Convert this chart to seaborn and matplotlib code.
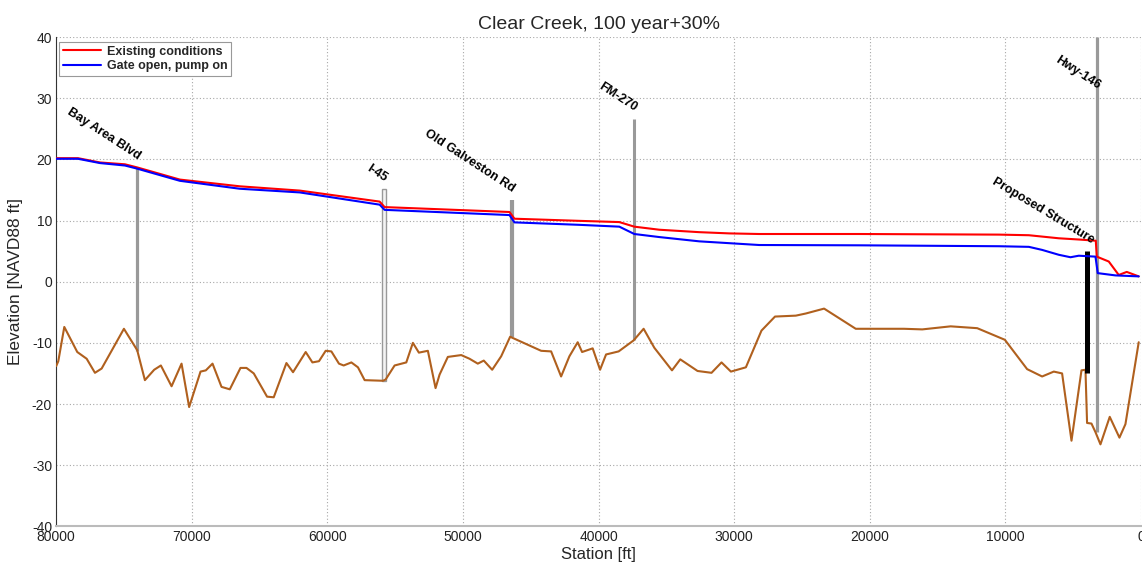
import numpy as np
import pandas as pd
import matplotlib
matplotlib.use("Agg")
import matplotlib.pyplot as plt
from matplotlib.patches import Rectangle
import seaborn as sns

# ---------------- data ----------------
existing_station = [80000, 78394, 76774, 74932, 74048, 70881, 66461, 62042, 56149, 55780,
                    46573, 46205, 41417, 38471, 37366, 35525, 32578, 30369, 28159, 20793,
                    10480, 8270, 6061, 4588, 3335, 3261, 2377, 1641, 1052, 168]
existing_elev = [20.2, 20.2, 19.5, 19.2, 18.7, 16.7, 15.6, 14.9, 13.1, 12.2,
                 11.4, 10.3, 9.95, 9.75, 9.0, 8.5, 8.1, 7.9, 7.8, 7.8,
                 7.7, 7.6, 7.1, 6.9, 6.7, 4.1, 3.3, 1.1, 1.6, 0.87]

gate_station = [80000, 78394, 76774, 74932, 74048, 70881, 66461, 62042, 56149, 55780,
                46573, 46205, 41417, 38471, 37366, 35525, 32578, 30369, 28159, 20793,
                10480, 8270, 7292, 6061, 5200, 4588, 3358, 3188, 1884, 168]
gate_elev = [20.1, 20.1, 19.4, 19.0, 18.5, 16.5, 15.2, 14.6, 12.6, 11.75,
             10.9, 9.7, 9.3, 9.0, 7.8, 7.3, 6.6, 6.3, 6.0, 5.95,
             5.8, 5.7, 5.2, 4.4, 4.0, 4.25, 4.1, 1.4, 1.03, 0.87]

bed_station = [80000, 79845, 79403, 78446, 77753, 77142, 76648, 75006, 74026, 73459,
               72774, 72281, 71492, 70756, 70196, 69356, 68966, 68472, 67809, 67198,
               66410, 65968, 65430, 64450, 63957, 63021, 62535, 61600, 61106, 60620,
               60127, 59707, 59147, 58800, 58233, 57747, 57253, 55906, 55707, 55044,
               54182, 53696, 53254, 52591, 52024, 51729, 51118, 50131, 49520, 48909,
               48467, 47848, 47185, 46522, 46330, 44238, 43501, 42765, 42154, 41542,
               41218, 40437, 39892, 39450, 38522, 37417, 36680, 35892, 34588, 33977,
               32703, 31672, 30935, 30243, 29138, 27989, 26990, 25454, 24718, 23371,
               21036, 17478, 16130, 14038, 12079, 10040, 8397, 7292, 6430, 5819,
               5126, 4390, 4095, 3977, 3653, 3358, 2990, 2305, 1590, 1148, 168]
bed_elev = [-13.8, -13.0, -7.4, -11.5, -12.6, -14.9, -14.2, -7.7, -11.2, -16.1,
            -14.4, -13.7, -17.1, -13.4, -20.5, -14.7, -14.5, -13.4, -17.2, -17.6,
            -14.1, -14.1, -15.0, -18.8, -18.9, -13.3, -14.8, -11.5, -13.2, -13.0,
            -11.3, -11.4, -13.4, -13.7, -13.2, -14.0, -16.1, -16.2, -16.0, -13.7,
            -13.2, -10.0, -11.6, -11.3, -17.4, -15.2, -12.3, -12.0, -12.6, -13.4,
            -12.9, -14.4, -12.2, -9.0, -9.2, -11.3, -11.4, -15.5, -12.2, -9.9,
            -11.5, -10.9, -14.4, -11.9, -11.4, -9.6, -7.7, -10.8, -14.5, -12.7,
            -14.6, -14.9, -13.2, -14.7, -14.0, -8.0, -5.7, -5.55, -5.2, -4.4,
            -7.7, -7.7, -7.8, -7.3, -7.6, -9.5, -14.3, -15.5, -14.7, -15.0,
            -26.0, -14.5, -14.4, -23.1, -23.2, -24.6, -26.6, -22.1, -25.5, -23.3, -9.9]

bridge_names = ["Bay Area Blvd", "I-45", "Old Galveston Rd", "FM-270", "Hwy-146"]
bridge_station = [74050, 55820, 46420, 37420, 3250]
bridge_bottom = [-11.3, -16.2, -9.0, -9.6, -24.6]
bridge_top = [18.7, 15.1, 13.4, 26.6, 40.0]
bridge_label_y = [19.6, 15.9, 14.2, 27.4, 31.0]

structure_name = "Proposed Structure"
structure_station = 3950
structure_bottom = -14.9
structure_top = 5.0
structure_label_y = 5.9

series_names = ["Existing conditions", "Gate open, pump on"]
x_ticks = [80000, 70000, 60000, 50000, 40000, 30000, 20000, 10000, 0]
y_ticks = [-40, -30, -20, -10, 0, 10, 20, 30, 40]

# ---------------- style ----------------
sns.set_style("white")
plt.rcParams["font.family"] = ["Liberation Sans", "DejaVu Sans"]
plt.rcParams["axes.unicode_minus"] = False

fig = plt.figure(figsize=(11.42, 5.65), dpi=100)
ax = fig.add_axes([56.2 / 1142, 1 - 526.3 / 565, (1141.0 - 56.2) / 1142, (526.3 - 37.1) / 565])

# bridges (gray)
bridge_widths = [2.3, None, 3.0, 2.2, 2.3]
for name, s, b, t, w in zip(bridge_names, bridge_station, bridge_bottom, bridge_top, bridge_widths):
    if name == "I-45":
        ax.add_patch(Rectangle((s + 150, b), -300, t - b, facecolor="#f4f4f4",
                               edgecolor="#999999", linewidth=1.0, zorder=2))
    else:
        ax.plot([s, s], [b, t], color="#999999", linewidth=w, solid_capstyle="butt", zorder=2)

# proposed structure (black)
ax.plot([structure_station, structure_station], [structure_bottom, structure_top],
        color="black", linewidth=3.6, solid_capstyle="butt", zorder=4)

# series
df_ex = pd.DataFrame({"Station": existing_station, "Elevation": existing_elev})
df_gt = pd.DataFrame({"Station": gate_station, "Elevation": gate_elev})
df_bed = pd.DataFrame({"Station": bed_station, "Elevation": bed_elev})

sns.lineplot(data=df_bed, x="Station", y="Elevation", color="#b0601e", linewidth=1.5,
             sort=False, estimator=None, ax=ax, zorder=3)
sns.lineplot(data=df_ex, x="Station", y="Elevation", color="#ff0000", linewidth=1.5,
             sort=False, estimator=None, ax=ax, label=series_names[0], zorder=5)
sns.lineplot(data=df_gt, x="Station", y="Elevation", color="#0000ff", linewidth=1.5,
             sort=False, estimator=None, ax=ax, label=series_names[1], zorder=6)

# labels
for name, s, ly in zip(bridge_names, bridge_station, bridge_label_y):
    ax.text(s + 100, ly, name, rotation=-33, rotation_mode="anchor", ha="right", va="bottom",
            fontsize=9, fontweight="bold", color="black", zorder=7)
ax.text(structure_station - 150, structure_label_y, structure_name, rotation=-31,
        rotation_mode="anchor", ha="right", va="bottom", fontsize=9, fontweight="bold",
        color="black", zorder=7)

# axes
ax.set_xlim(80000, 0)
ax.set_ylim(-40, 40)
ax.set_xticks(x_ticks)
ax.set_yticks(y_ticks)
ax.set_xticklabels([str(v) for v in x_ticks])
ax.set_yticklabels([str(v) for v in y_ticks])
ax.tick_params(direction="in", length=8, width=0.8, labelsize=10, colors="#222222", pad=3)
ax.grid(True, linestyle=(0, (1, 2)), color="#a8a8a8", linewidth=0.8)
for side in ["top", "right"]:
    ax.spines[side].set_visible(False)
ax.spines["left"].set_color("#333333")
ax.spines["left"].set_linewidth(0.8)
ax.spines["bottom"].set_color("#bbbbbb")
ax.spines["bottom"].set_linewidth(1.5)

ax.set_xlabel("Station [ft]", fontsize=12, labelpad=2)
ax.set_ylabel("Elevation [NAVD88 ft]", fontsize=12.5, labelpad=6)
ax.set_title("Clear Creek, 100 year+30%", fontsize=14, pad=6)

leg = ax.legend(loc="upper left", bbox_to_anchor=(0.003, 0.99), borderaxespad=0,
                frameon=True, fancybox=False, framealpha=1, edgecolor="#999999",
                prop={"size": 9, "weight": "bold"}, handlelength=3.0,
                borderpad=0.3, labelspacing=0.2, handletextpad=0.5)
leg.get_frame().set_linewidth(0.8)

fig.savefig("out.png", dpi=100)
